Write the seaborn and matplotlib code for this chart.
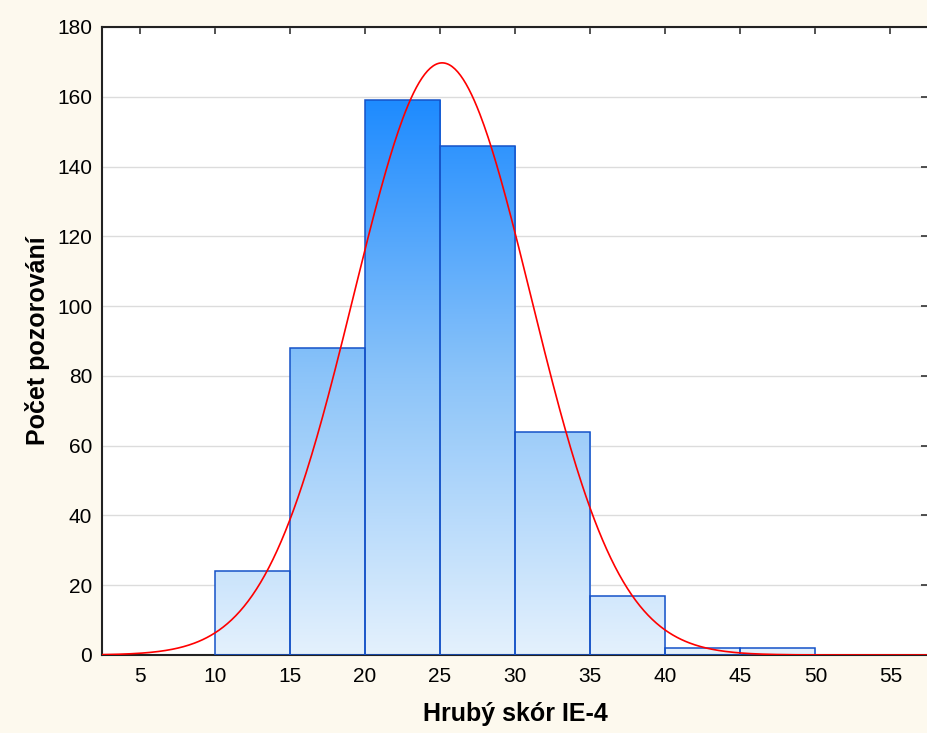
import numpy as np
import pandas as pd
import matplotlib
matplotlib.use('Agg')
import matplotlib.pyplot as plt
import seaborn as sns
from matplotlib.colors import LinearSegmentedColormap

# binned counts
bin_left = [10, 15, 20, 25, 30, 35, 40, 45]
counts = [24, 88, 159, 146, 64, 17, 2, 2]
bin_edges = [10, 15, 20, 25, 30, 35, 40, 45, 50]
x_ticks = [5, 10, 15, 20, 25, 30, 35, 40, 45, 50, 55]
y_ticks = [0, 20, 40, 60, 80, 100, 120, 140, 160, 180]
# fitted normal curve parameters
fit_mean = 25.15
fit_sd = 5.9

sns.set_style('white')
plt.rcParams['font.family'] = ['Liberation Sans', 'DejaVu Sans']

fig = plt.figure(figsize=(9.28, 7.33), dpi=100, facecolor='#fdf9ee')
ax = fig.add_axes([102/928, 1-655/733, (928-102)/928, (655-27)/733])
ax.set_facecolor('white')

df = pd.DataFrame({'score': bin_left, 'n': counts})
sns.histplot(data=df, x='score', weights='n', bins=bin_edges, ax=ax,
             stat='count', fill=True, facecolor='none', edgecolor='#1552c8',
             linewidth=1.1, alpha=1, zorder=3)

# vertical gradient fill, clipped to each bar
cmap = LinearSegmentedColormap.from_list('grad', ['#e4f1fd', '#8cc4f9', '#1e8bff'])
grad = np.linspace(0, 1, 256).reshape(-1, 1)
top = max(counts)
for p in ax.patches:
    im = ax.imshow(grad, cmap=cmap, aspect='auto', origin='lower',
                   extent=[2.5, 57.5, 0, top], zorder=2, interpolation='bilinear')
    im.set_clip_path(p)
ax.set_xlim(2.5, 57.5)
ax.set_ylim(0, 180)

# normal curve
N = sum(counts)
xs = np.linspace(2.5, 57.5, 600)
ys = N * 5 / (fit_sd * np.sqrt(2 * np.pi)) * np.exp(-0.5 * ((xs - fit_mean) / fit_sd) ** 2)
sns.lineplot(x=xs, y=ys, ax=ax, color='red', linewidth=1.2, zorder=4)

ax.set_xticks(x_ticks)
ax.set_yticks(y_ticks)
ax.yaxis.grid(True, color='#dcdcdc', linewidth=1)
ax.set_axisbelow(True)
ax.tick_params(axis='both', which='both', direction='in', length=5, width=1.2,
               top=True, right=True, labelsize=15, color='#333333', labelcolor='black')
ax.tick_params(axis='x', pad=9)
ax.tick_params(axis='y', pad=7)
for s in ['left', 'bottom', 'top']:
    ax.spines[s].set_color('#222222')
    ax.spines[s].set_linewidth(1.5)
ax.spines['right'].set_visible(False)

ax.set_xlabel('Hrubý skór IE-4', fontsize=18, fontweight='bold', labelpad=11, color='black')
ax.set_ylabel('Počet pozorování', fontsize=18, fontweight='bold', labelpad=5, color='black')

fig.savefig('out.png', dpi=100, facecolor=fig.get_facecolor())
